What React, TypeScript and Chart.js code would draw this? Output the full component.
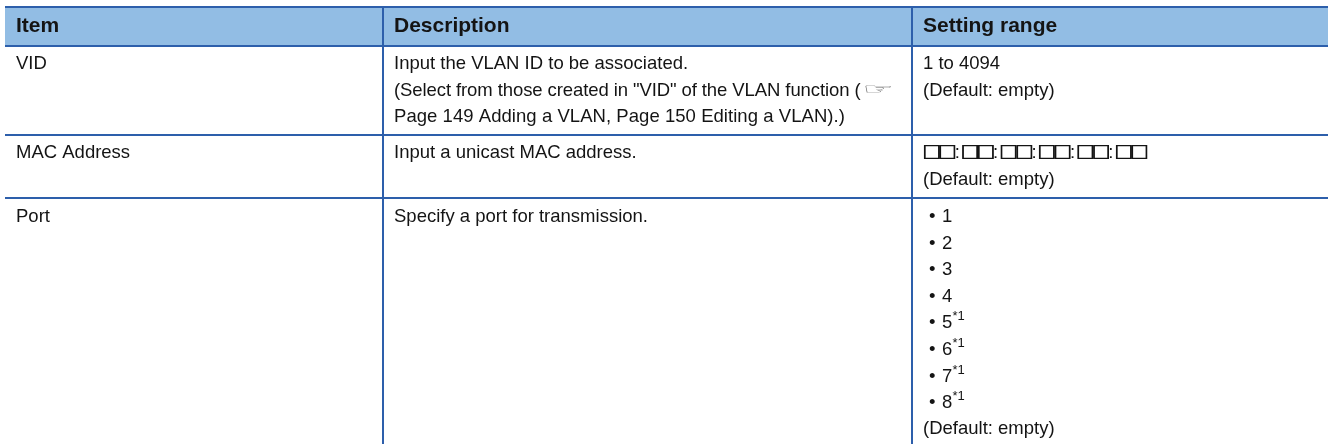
import React, { useEffect, useRef } from "react";
import { Chart, registerables } from "chart.js";

Chart.register(...registerables);

const columnHeaders = ["Item", "Description", "Setting range"];
const itemLabels = ["VID", "MAC Address", "Port"];
const descriptionRow1 = [
  "Input the VLAN ID to be associated.",
  '(Select from those created in "VID" of the VLAN function (',
  "Page 149 Adding a VLAN, Page 150 Editing a VLAN).)",
];
const descriptionRow2 = ["Input a unicast MAC address."];
const descriptionRow3 = ["Specify a port for transmission."];
const rangeRow1 = ["1 to 4094", "(Default: empty)"];
const macPattern = "□□:□□:□□:□□:□□:□□";
const portNumbers = ["1", "2", "3", "4", "5", "6", "7", "8"];
const portNotes = ["", "", "", "", "*1", "*1", "*1", "*1"];
const defaultNote = "(Default: empty)";
const pointerGlyph = "☞";

const W = 1329;
const H = 444;
const LEFT = 5;
const RIGHT = 1328;
const TOP = 7;
const columnBorders = [383, 912];
const rowBorders = [7, 46, 135, 198];
const textX = [16, 394, 923];
const lineSpacing = [0, -0.09, 0.05];
const BLUE = "#2d5fab";
const HEADER = "#92bde4";
const INK = "#141414";
const FONT = '"Liberation Sans", Arial, sans-serif';
const BODY = `18.5px ${FONT}`;
const BOLD = `bold 21px ${FONT}`;

const tablePlugin = {
  id: "tableCells",
  beforeDraw(chart: any) {
    const { ctx, scales } = chart;
    const x = scales.x;
    const y = scales.y;
    ctx.save();
    ctx.fillStyle = HEADER;
    ctx.fillRect(x.getPixelForValue(LEFT), y.getPixelForValue(rowBorders[0]), x.getPixelForValue(RIGHT) - x.getPixelForValue(LEFT), y.getPixelForValue(rowBorders[1]) - y.getPixelForValue(rowBorders[0]));
    ctx.restore();
  },
  afterDraw(chart: any) {
    const { ctx, scales } = chart;
    const x = scales.x;
    const y = scales.y;
    const put = (s: string, px: number, py: number, font = BODY) => {
      ctx.font = font;
      ctx.fillText(s, x.getPixelForValue(px), y.getPixelForValue(py));
    };
    ctx.save();
    ctx.fillStyle = INK;
    ctx.strokeStyle = INK;
    ctx.textBaseline = "alphabetic";
    ctx.textAlign = "left";
    columnHeaders.forEach((s, i) => put(s, textX[i], 32, BOLD));
    [69, 158, 222].forEach((b, i) => put(itemLabels[i], textX[0], b));
    descriptionRow1.forEach((s, i) => {
      ctx.letterSpacing = `${lineSpacing[i]}px`;
      put(s, textX[1], 69 + i * 26.5);
    });
    ctx.letterSpacing = "0px";
    descriptionRow2.forEach((s) => put(s, textX[1], 158));
    descriptionRow3.forEach((s) => put(s, textX[1], 222));
    rangeRow1.forEach((s, i) => put(s, textX[2], 69 + i * 26.5));

    // the MAC pattern: wide hollow boxes and colons, one character at a time
    let cursor = 922.4;
    Array.from(macPattern).forEach((ch) => {
      if (ch === ":") {
        put(ch, cursor + 0.9, 158);
        cursor += 7;
      } else {
        ctx.save();
        ctx.translate(x.getPixelForValue(cursor), y.getPixelForValue(158));
        ctx.scale(1.2, 1);
        ctx.font = `bold 15.6px "Noto Sans CJK JP"`;
        ctx.lineWidth = 0.7;
        ctx.fillText(ch, 0, 0);
        ctx.strokeText(ch, 0, 0);
        ctx.restore();
        cursor += 15.7;
      }
    });
    put(defaultNote, textX[2], 185);

    portNumbers.forEach((s, i) => {
      const b = 222 + i * 26.6;
      put("•", 929, b);
      put(s, 942, b);
      if (portNotes[i]) put(portNotes[i], 952.5, b - 8, `13px ${FONT}`);
    });
    put(defaultNote, textX[2], 434);

    ctx.fillStyle = "#666666";
    ctx.save();
    ctx.translate(x.getPixelForValue(862.5), y.getPixelForValue(94));
    ctx.scale(1.75, 0.76);
    ctx.font = `20px "DejaVu Sans"`;
    ctx.fillText(pointerGlyph, 0, 0);
    ctx.restore();
    ctx.restore();
  },
};

export default function App() {
  const ref = useRef<HTMLCanvasElement | null>(null);
  useEffect(() => {
    document.body.style.margin = "0";
    document.body.style.background = "#ffffff";
    const chart = new Chart(ref.current as HTMLCanvasElement, {
      type: "scatter",
      data: { datasets: [] },
      plugins: [tablePlugin],
      options: {
        animation: false,
        responsive: false,
        layout: { padding: { left: LEFT, right: W - RIGHT, top: TOP, bottom: 0 } },
        plugins: { legend: { display: false }, tooltip: { enabled: false } },
        scales: {
          x: {
            type: "linear",
            min: LEFT,
            max: RIGHT,
            afterBuildTicks: (s: any) => { s.ticks = columnBorders.map((value) => ({ value })); },
            ticks: { display: false, autoSkip: false },
            border: { display: false },
            grid: { color: BLUE, lineWidth: 2, drawTicks: false },
          },
          y: {
            type: "linear",
            reverse: true,
            min: TOP,
            max: H,
            afterBuildTicks: (s: any) => { s.ticks = rowBorders.map((value) => ({ value })); },
            ticks: { display: false, autoSkip: false },
            border: { display: false },
            grid: { color: BLUE, lineWidth: 2, drawTicks: false },
          },
        },
      },
    } as any);
    return () => chart.destroy();
  }, []);
  return <canvas ref={ref} width={W} height={H} style={{ display: "block", width: W, height: H }} />;
}
